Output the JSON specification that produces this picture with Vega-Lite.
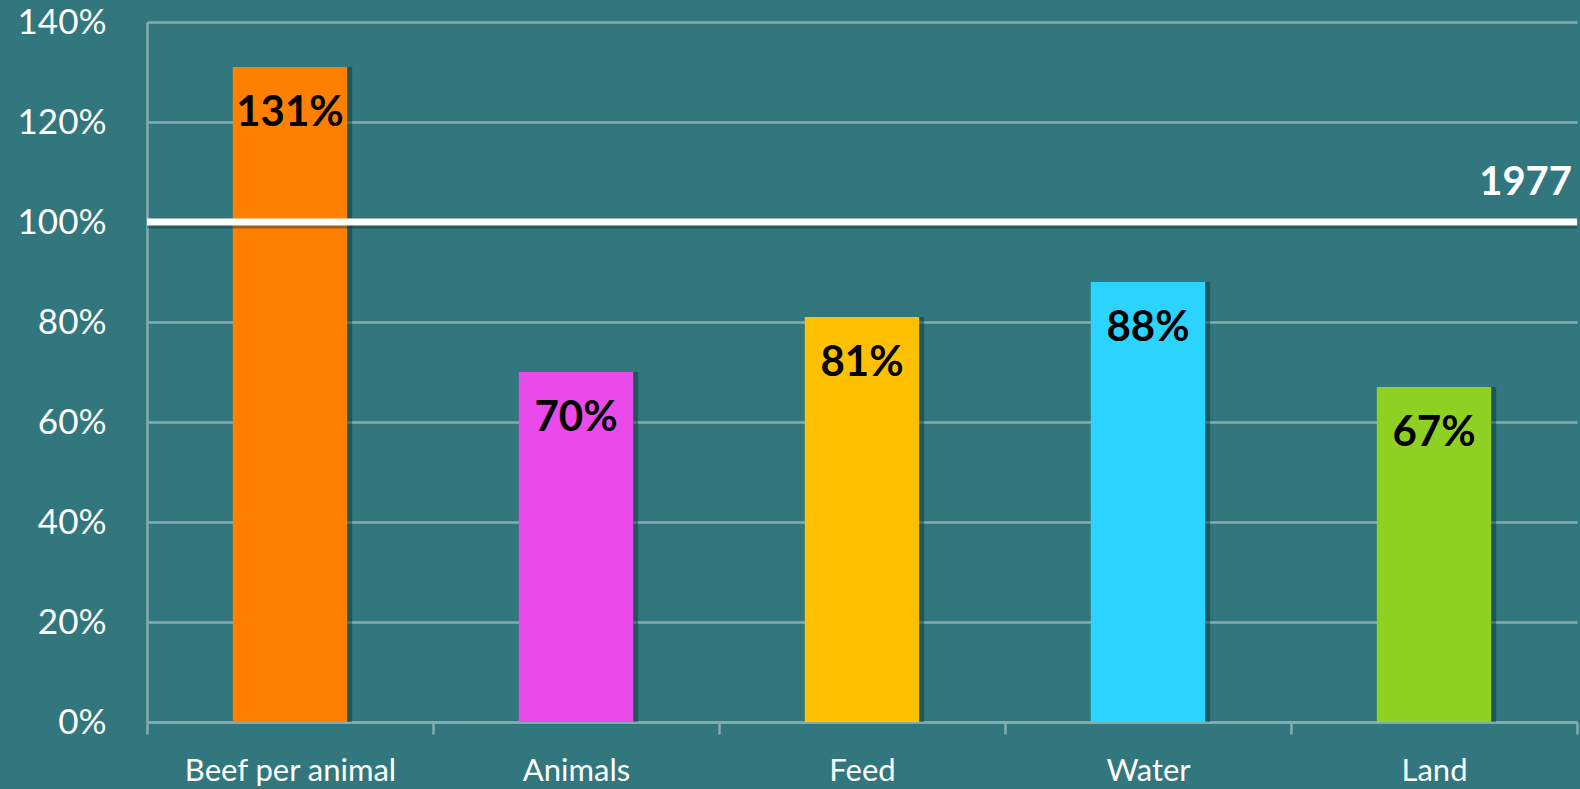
{
  "$schema": "https://vega.github.io/schema/vega-lite/v6.json",
  "width": 1430,
  "height": 700,
  "autosize": {"type": "none"},
  "padding": {"left": 147, "top": 22, "right": 3, "bottom": 67},
  "background": "#31777d",
  "config": {
    "view": {"stroke": null},
    "font": "Lato",
    "axis": {"labelFont": "Lato", "labelColor": "#ffffff"}
  },
  "data": {
    "values": [
      {"category": "Beef per animal", "value": 131, "color": "#ff7f00"},
      {"category": "Animals", "value": 70, "color": "#ea4aea"},
      {"category": "Feed", "value": 81, "color": "#ffc000"},
      {"category": "Water", "value": 88, "color": "#2ad4ff"},
      {"category": "Land", "value": 67, "color": "#8fd122"}
    ]
  },
  "encoding": {
    "x": {
      "field": "category",
      "type": "nominal",
      "sort": null,
      "scale": {"paddingInner": 0, "paddingOuter": 0},
      "axis": {
        "title": null,
        "labelAngle": 0,
        "labelFontSize": 31,
        "labelLimit": 0,
        "labelPadding": 22,
        "tickSize": 12,
        "tickColor": "#86adb0",
        "tickWidth": 2.5,
        "tickBand": "extent",
        "domainColor": "#86adb0",
        "domainWidth": 2.5,
        "grid": false
      }
    },
    "y": {
      "field": "value",
      "type": "quantitative",
      "scale": {"domain": [0, 140]},
      "axis": {
        "title": null,
        "values": [0, 20, 40, 60, 80, 100, 120, 140],
        "labelExpr": "datum.value + '%'",
        "labelFontSize": 35,
        "labelPadding": 41,
        "tickSize": 0,
        "domainColor": "#86adb0",
        "domainWidth": 2.5,
        "gridColor": "#86adb0",
        "gridWidth": 2.5
      }
    }
  },
  "layer": [
    {
      "mark": {"type": "bar", "color": "#0c2f33", "opacity": 0.45, "xOffset": 5, "width": {"band": 0.4}}
    },
    {
      "mark": {"type": "bar", "width": {"band": 0.4}},
      "encoding": {
        "color": {"field": "color", "type": "nominal", "scale": null, "legend": null}
      }
    },
    {
      "transform": [{"calculate": "datum.value + '%'", "as": "lbl"}],
      "mark": {"type": "text", "baseline": "middle", "align": "center", "dy": 46, "fontSize": 42, "fontWeight": "bold", "color": "#000000"},
      "encoding": {
        "text": {"field": "lbl", "type": "nominal"}
      }
    },
    {
      "data": {"values": [{"ref": 100, "label": "1977"}]},
      "mark": {"type": "rule", "color": "#0c2f33", "opacity": 0.4, "strokeWidth": 7, "yOffset": 3},
      "encoding": {"y": {"field": "ref", "type": "quantitative"}, "x": null}
    },
    {
      "data": {"values": [{"ref": 100, "label": "1977"}]},
      "mark": {"type": "rule", "color": "#ffffff", "strokeWidth": 7},
      "encoding": {"y": {"field": "ref", "type": "quantitative"}, "x": null}
    },
    {
      "data": {"values": [{"ref": 100, "label": "1977"}]},
      "mark": {"type": "text", "align": "right", "baseline": "middle", "dx": -5, "dy": -39, "fontSize": 40, "fontWeight": "bold", "color": "#ffffff"},
      "encoding": {
        "y": {"field": "ref", "type": "quantitative"},
        "x": {"value": {"expr": "width"}},
        "text": {"field": "label"}
      }
    }
  ]
}
